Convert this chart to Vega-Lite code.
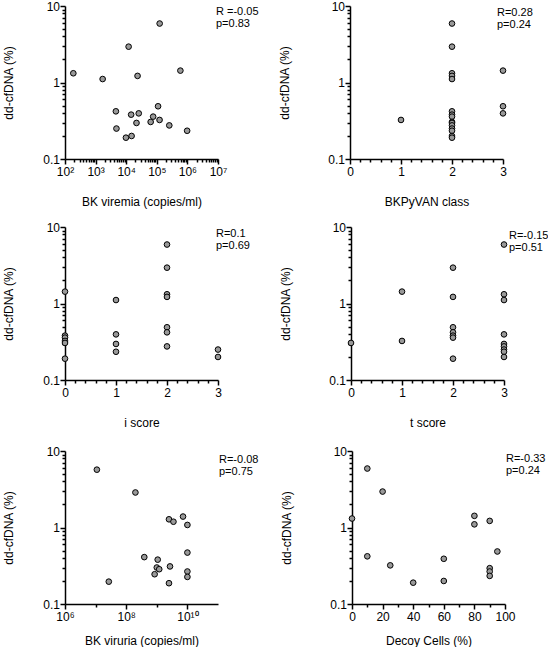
{
  "$schema": "https://vega.github.io/schema/vega-lite/v6.json",
  "padding": {"left": 2, "top": 0, "right": 0, "bottom": 0},
  "background": "white",
  "config": {
    "view": {"stroke": null},
    "font": "Liberation Sans",
    "axis": {"grid": false, "domainColor": "#000", "domainWidth": 1.5, "tickColor": "#000", "tickWidth": 1.5, "tickSize": 5, "labelColor": "#000", "labelFontSize": 12, "labelFont": "Liberation Sans", "titleFont": "Liberation Sans", "titleFontSize": 12, "titleFontWeight": "normal", "titleColor": "#000", "labelFlush": false, "labelOverlap": false},
    "axisX": {"labelPadding": 2.5},
    "axisY": {"labelPadding": 0.5},
    "text": {"font": "Liberation Sans", "fontSize": 11, "fontWeight": "normal", "align": "left", "baseline": "top", "lineHeight": 12, "fill": "#000"}
  },
  "datasets": {
    "viremia": [
      {"bk_viremia": 187, "dd_cfdna": 1.32}, {"bk_viremia": 1700, "dd_cfdna": 1.11}, {"bk_viremia": 12000, "dd_cfdna": 2.94},
      {"bk_viremia": 23500, "dd_cfdna": 1.22}, {"bk_viremia": 124000, "dd_cfdna": 5.9}, {"bk_viremia": 590000, "dd_cfdna": 1.43},
      {"bk_viremia": 4600, "dd_cfdna": 0.42}, {"bk_viremia": 4800, "dd_cfdna": 0.25}, {"bk_viremia": 9800, "dd_cfdna": 0.19},
      {"bk_viremia": 15000, "dd_cfdna": 0.2}, {"bk_viremia": 14500, "dd_cfdna": 0.38}, {"bk_viremia": 25700, "dd_cfdna": 0.395},
      {"bk_viremia": 21700, "dd_cfdna": 0.296}, {"bk_viremia": 63000, "dd_cfdna": 0.305}, {"bk_viremia": 76000, "dd_cfdna": 0.358},
      {"bk_viremia": 110000, "dd_cfdna": 0.489}, {"bk_viremia": 123000, "dd_cfdna": 0.324}, {"bk_viremia": 256000, "dd_cfdna": 0.275},
      {"bk_viremia": 980000, "dd_cfdna": 0.234}
    ],
    "bkpyvan": [
      {"bkpyvan_class": 1, "dd_cfdna": 0.324},
      {"bkpyvan_class": 2, "dd_cfdna": 5.9}, {"bkpyvan_class": 2, "dd_cfdna": 2.94}, {"bkpyvan_class": 2, "dd_cfdna": 1.32},
      {"bkpyvan_class": 2, "dd_cfdna": 1.22}, {"bkpyvan_class": 2, "dd_cfdna": 1.11}, {"bkpyvan_class": 2, "dd_cfdna": 0.42},
      {"bkpyvan_class": 2, "dd_cfdna": 0.38}, {"bkpyvan_class": 2, "dd_cfdna": 0.358}, {"bkpyvan_class": 2, "dd_cfdna": 0.305},
      {"bkpyvan_class": 2, "dd_cfdna": 0.296}, {"bkpyvan_class": 2, "dd_cfdna": 0.275}, {"bkpyvan_class": 2, "dd_cfdna": 0.25},
      {"bkpyvan_class": 2, "dd_cfdna": 0.234}, {"bkpyvan_class": 2, "dd_cfdna": 0.2}, {"bkpyvan_class": 2, "dd_cfdna": 0.19},
      {"bkpyvan_class": 3, "dd_cfdna": 1.43}, {"bkpyvan_class": 3, "dd_cfdna": 0.489}, {"bkpyvan_class": 3, "dd_cfdna": 0.395}
    ],
    "iscore": [
      {"i_score": 0, "dd_cfdna": 1.43}, {"i_score": 0, "dd_cfdna": 0.38}, {"i_score": 0, "dd_cfdna": 0.358},
      {"i_score": 0, "dd_cfdna": 0.324}, {"i_score": 0, "dd_cfdna": 0.305}, {"i_score": 0, "dd_cfdna": 0.19},
      {"i_score": 1, "dd_cfdna": 1.11}, {"i_score": 1, "dd_cfdna": 0.395}, {"i_score": 1, "dd_cfdna": 0.296}, {"i_score": 1, "dd_cfdna": 0.234},
      {"i_score": 2, "dd_cfdna": 5.9}, {"i_score": 2, "dd_cfdna": 2.94}, {"i_score": 2, "dd_cfdna": 1.32}, {"i_score": 2, "dd_cfdna": 1.22},
      {"i_score": 2, "dd_cfdna": 0.489}, {"i_score": 2, "dd_cfdna": 0.42}, {"i_score": 2, "dd_cfdna": 0.275},
      {"i_score": 3, "dd_cfdna": 0.25}, {"i_score": 3, "dd_cfdna": 0.2}
    ],
    "tscore": [
      {"t_score": 0, "dd_cfdna": 0.305},
      {"t_score": 1, "dd_cfdna": 1.43}, {"t_score": 1, "dd_cfdna": 0.324},
      {"t_score": 2, "dd_cfdna": 2.94}, {"t_score": 2, "dd_cfdna": 1.22}, {"t_score": 2, "dd_cfdna": 0.489}, {"t_score": 2, "dd_cfdna": 0.42},
      {"t_score": 2, "dd_cfdna": 0.38}, {"t_score": 2, "dd_cfdna": 0.358}, {"t_score": 2, "dd_cfdna": 0.19},
      {"t_score": 3, "dd_cfdna": 5.9}, {"t_score": 3, "dd_cfdna": 1.32}, {"t_score": 3, "dd_cfdna": 1.11}, {"t_score": 3, "dd_cfdna": 0.395},
      {"t_score": 3, "dd_cfdna": 0.296}, {"t_score": 3, "dd_cfdna": 0.275}, {"t_score": 3, "dd_cfdna": 0.25}, {"t_score": 3, "dd_cfdna": 0.234},
      {"t_score": 3, "dd_cfdna": 0.2}
    ],
    "viruria": [
      {"bk_viruria": 11000000, "dd_cfdna": 5.7}, {"bk_viruria": 27000000, "dd_cfdna": 0.196}, {"bk_viruria": 200000000, "dd_cfdna": 2.87},
      {"bk_viruria": 390000000, "dd_cfdna": 0.41}, {"bk_viruria": 1070000000, "dd_cfdna": 0.38}, {"bk_viruria": 1000000000, "dd_cfdna": 0.3},
      {"bk_viruria": 1200000000, "dd_cfdna": 0.285}, {"bk_viruria": 850000000, "dd_cfdna": 0.245}, {"bk_viruria": 2500000000, "dd_cfdna": 1.28},
      {"bk_viruria": 3500000000, "dd_cfdna": 1.19}, {"bk_viruria": 2700000000, "dd_cfdna": 0.31}, {"bk_viruria": 2500000000, "dd_cfdna": 0.187},
      {"bk_viruria": 7200000000, "dd_cfdna": 1.39}, {"bk_viruria": 10000000000, "dd_cfdna": 1.08}, {"bk_viruria": 10000000000, "dd_cfdna": 0.47},
      {"bk_viruria": 10000000000, "dd_cfdna": 0.266}, {"bk_viruria": 10000000000, "dd_cfdna": 0.226}
    ],
    "decoy": [
      {"decoy_cells": 0, "dd_cfdna": 1.31}, {"decoy_cells": 10, "dd_cfdna": 5.9}, {"decoy_cells": 10, "dd_cfdna": 0.42},
      {"decoy_cells": 20, "dd_cfdna": 2.95}, {"decoy_cells": 25, "dd_cfdna": 0.32}, {"decoy_cells": 40, "dd_cfdna": 0.19},
      {"decoy_cells": 60, "dd_cfdna": 0.39}, {"decoy_cells": 60, "dd_cfdna": 0.2}, {"decoy_cells": 80, "dd_cfdna": 1.42},
      {"decoy_cells": 80, "dd_cfdna": 1.1}, {"decoy_cells": 90, "dd_cfdna": 1.22}, {"decoy_cells": 90, "dd_cfdna": 0.294},
      {"decoy_cells": 90, "dd_cfdna": 0.266}, {"decoy_cells": 90, "dd_cfdna": 0.233}, {"decoy_cells": 95, "dd_cfdna": 0.486}
    ]
  },
  "spacing": 13,
  "vconcat": [
    {
      "spacing": 19,
      "hconcat": [
        {
          "width": 153, "height": 153,
          "data": {"name": "viremia"},
          "layer": [
            {
              "mark": {"type": "circle", "size": 32, "color": "#999999", "stroke": "#000", "strokeWidth": 1, "opacity": 1},
              "encoding": {
                "x": {"field": "bk_viremia", "type": "quantitative", "scale": {"type": "log", "domain": [100, 10000000], "nice": false},
                      "axis": {"values": [100, 1000, 10000, 100000, 1000000, 10000000], "labelExpr": "'10' + ['⁰','¹','²','³','⁴','⁵','⁶','⁷','⁸','⁹','¹⁰','¹¹'][round(log(datum.value)/LN10)]", "title": "BK viremia (copies/ml)", "titlePadding": 19}},
                "y": {"field": "dd_cfdna", "type": "quantitative", "scale": {"type": "log", "domain": [0.1, 10], "nice": false},
                      "axis": {"values": [0.1, 1, 10], "format": "~g", "title": "dd-cfDNA (%)", "titlePadding": 27}}
              }
            },
            {
              "mark": {"type": "circle", "opacity": 0},
              "encoding": {
                "x": {"field": "bk_viremia", "type": "quantitative", "axis": {"orient": "bottom", "values": [200,300,400,500,600,700,800,900,2000,3000,4000,5000,6000,7000,8000,9000,20000,30000,40000,50000,60000,70000,80000,90000,200000,300000,400000,500000,600000,700000,800000,900000,2000000,3000000,4000000,5000000,6000000,7000000,8000000,9000000], "labels": false, "domain": false, "tickSize": 3, "title": null}},
                "y": {"field": "dd_cfdna", "type": "quantitative", "axis": {"orient": "left", "values": [0.2,0.3,0.4,0.5,0.6,0.7,0.8,0.9,2,3,4,5,6,7,8,9], "labels": false, "domain": false, "tickSize": 3, "title": null}}
              }
            },
            {
              "data": {"values": [{}]},
              "mark": {"type": "text", "dx": -2, "dy": 0},
              "encoding": {"x": {"datum": 10000000, "axis": null}, "y": {"datum": 10, "axis": null}, "text": {"value": ["R =-0.05", "p=0.83"]}}
            }
          ],
          "resolve": {"axis": {"x": "independent", "y": "independent"}}
        },
        {
          "width": 153, "height": 153,
          "data": {"name": "bkpyvan"},
          "layer": [
            {
              "mark": {"type": "circle", "size": 32, "color": "#999999", "stroke": "#000", "strokeWidth": 1, "opacity": 1},
              "encoding": {
                "x": {"field": "bkpyvan_class", "type": "quantitative", "scale": {"domain": [0, 3], "nice": false, "zero": false},
                      "axis": {"values": [0, 1, 2, 3], "format": "d", "title": "BKPyVAN class", "titlePadding": 19}},
                "y": {"field": "dd_cfdna", "type": "quantitative", "scale": {"type": "log", "domain": [0.1, 10], "nice": false},
                      "axis": {"values": [0.1, 1, 10], "format": "~g", "title": "dd-cfDNA (%)", "titlePadding": 36}}
              }
            },
            {
              "mark": {"type": "circle", "opacity": 0},
              "encoding": {
                "x": {"field": "bkpyvan_class", "type": "quantitative", "axis": {"orient": "bottom", "values": [0.2,0.4,0.6,0.8,1.2,1.4,1.6,1.8,2.2,2.4,2.6,2.8], "labels": false, "domain": false, "tickSize": 3, "title": null}},
                "y": {"field": "dd_cfdna", "type": "quantitative", "axis": {"orient": "left", "values": [0.2,0.3,0.4,0.5,0.6,0.7,0.8,0.9,2,3,4,5,6,7,8,9], "labels": false, "domain": false, "tickSize": 3, "title": null}}
              }
            },
            {
              "data": {"values": [{}]},
              "mark": {"type": "text", "dx": -6, "dy": 1},
              "encoding": {"x": {"datum": 3, "axis": null}, "y": {"datum": 10, "axis": null}, "text": {"value": ["R=0.28", "p=0.24"]}}
            }
          ],
          "resolve": {"axis": {"x": "independent", "y": "independent"}}
        }
      ]
    },
    {
      "spacing": 16,
      "vconcat": [
        {
          "spacing": 29,
          "hconcat": [
            {
              "width": 153, "height": 153,
              "data": {"name": "iscore"},
              "layer": [
                {
                  "mark": {"type": "circle", "size": 32, "color": "#999999", "stroke": "#000", "strokeWidth": 1, "opacity": 1},
                  "encoding": {
                    "x": {"field": "i_score", "type": "quantitative", "scale": {"domain": [0, 3], "nice": false, "zero": false},
                          "axis": {"values": [0, 1, 2, 3], "format": "d", "title": "i score", "titlePadding": 19}},
                    "y": {"field": "dd_cfdna", "type": "quantitative", "scale": {"type": "log", "domain": [0.1, 10], "nice": false},
                          "axis": {"values": [0.1, 1, 10], "format": "~g", "title": "dd-cfDNA (%)", "titlePadding": 27}}
                  }
                },
                {
                  "mark": {"type": "circle", "opacity": 0},
                  "encoding": {
                    "x": {"field": "i_score", "type": "quantitative", "axis": {"orient": "bottom", "values": [0.2,0.4,0.6,0.8,1.2,1.4,1.6,1.8,2.2,2.4,2.6,2.8], "labels": false, "domain": false, "tickSize": 3, "title": null}},
                    "y": {"field": "dd_cfdna", "type": "quantitative", "axis": {"orient": "left", "values": [0.2,0.3,0.4,0.5,0.6,0.7,0.8,0.9,2,3,4,5,6,7,8,9], "labels": false, "domain": false, "tickSize": 3, "title": null}}
                  }
                },
                {
                  "data": {"values": [{}]},
                  "mark": {"type": "text", "dx": -2, "dy": 1},
                  "encoding": {"x": {"datum": 3, "axis": null}, "y": {"datum": 10, "axis": null}, "text": {"value": ["R=0.1", "p=0.69"]}}
                }
              ],
              "resolve": {"axis": {"x": "independent", "y": "independent"}}
            },
            {
              "width": 153, "height": 153,
              "data": {"name": "tscore"},
              "layer": [
                {
                  "mark": {"type": "circle", "size": 32, "color": "#999999", "stroke": "#000", "strokeWidth": 1, "opacity": 1},
                  "encoding": {
                    "x": {"field": "t_score", "type": "quantitative", "scale": {"domain": [0, 3], "nice": false, "zero": false},
                          "axis": {"values": [0, 1, 2, 3], "format": "d", "title": "t score", "titlePadding": 19}},
                    "y": {"field": "dd_cfdna", "type": "quantitative", "scale": {"type": "log", "domain": [0.1, 10], "nice": false},
                          "axis": {"values": [0.1, 1, 10], "format": "~g", "title": "dd-cfDNA (%)", "titlePadding": 36}}
                  }
                },
                {
                  "mark": {"type": "circle", "opacity": 0},
                  "encoding": {
                    "x": {"field": "t_score", "type": "quantitative", "axis": {"orient": "bottom", "values": [0.2,0.4,0.6,0.8,1.2,1.4,1.6,1.8,2.2,2.4,2.6,2.8], "labels": false, "domain": false, "tickSize": 3, "title": null}},
                    "y": {"field": "dd_cfdna", "type": "quantitative", "axis": {"orient": "left", "values": [0.2,0.3,0.4,0.5,0.6,0.7,0.8,0.9,2,3,4,5,6,7,8,9], "labels": false, "domain": false, "tickSize": 3, "title": null}}
                  }
                },
                {
                  "data": {"values": [{}]},
                  "mark": {"type": "text", "dx": 5, "dy": 3},
                  "encoding": {"x": {"datum": 3, "axis": null}, "y": {"datum": 10, "axis": null}, "text": {"value": ["R=-0.15", "p=0.51"]}}
                }
              ],
              "resolve": {"axis": {"x": "independent", "y": "independent"}}
            }
          ]
        },
        {
          "spacing": 21,
          "hconcat": [
            {
              "width": 153, "height": 153,
              "data": {"name": "viruria"},
              "layer": [
                {
                  "mark": {"type": "circle", "size": 32, "color": "#999999", "stroke": "#000", "strokeWidth": 1, "opacity": 1},
                  "encoding": {
                    "x": {"field": "bk_viruria", "type": "quantitative", "scale": {"type": "log", "domain": [1000000, 100000000000], "nice": false},
                          "axis": {"values": [1000000, 100000000, 10000000000], "labelExpr": "'10' + ['⁰','¹','²','³','⁴','⁵','⁶','⁷','⁸','⁹','¹⁰','¹¹'][round(log(datum.value)/LN10)]", "title": "BK viruria (copies/ml)", "titlePadding": 13}},
                    "y": {"field": "dd_cfdna", "type": "quantitative", "scale": {"type": "log", "domain": [0.1, 10], "nice": false},
                          "axis": {"values": [0.1, 1, 10], "format": "~g", "title": "dd-cfDNA (%)", "titlePadding": 27}}
                  }
                },
                {
                  "mark": {"type": "circle", "opacity": 0},
                  "encoding": {
                    "x": {"field": "bk_viruria", "type": "quantitative", "axis": {"orient": "bottom", "values": [10000000, 1000000000], "labels": false, "domain": false, "tickSize": 3, "title": null}},
                    "y": {"field": "dd_cfdna", "type": "quantitative", "axis": {"orient": "left", "values": [0.2,0.3,0.4,0.5,0.6,0.7,0.8,0.9,2,3,4,5,6,7,8,9], "labels": false, "domain": false, "tickSize": 3, "title": null}}
                  }
                },
                {
                  "data": {"values": [{}]},
                  "mark": {"type": "text", "dx": 1, "dy": 3},
                  "encoding": {"x": {"datum": 100000000000, "axis": null}, "y": {"datum": 10, "axis": null}, "text": {"value": ["R=-0.08", "p=0.75"]}}
                }
              ],
              "resolve": {"axis": {"x": "independent", "y": "independent"}}
            },
            {
              "width": 153, "height": 153,
              "data": {"name": "decoy"},
              "layer": [
                {
                  "mark": {"type": "circle", "size": 32, "color": "#999999", "stroke": "#000", "strokeWidth": 1, "opacity": 1},
                  "encoding": {
                    "x": {"field": "decoy_cells", "type": "quantitative", "scale": {"domain": [0, 100], "nice": false},
                          "axis": {"values": [0, 20, 40, 60, 80, 100], "format": "d", "title": "Decoy Cells (%)", "titlePadding": 13}},
                    "y": {"field": "dd_cfdna", "type": "quantitative", "scale": {"type": "log", "domain": [0.1, 10], "nice": false},
                          "axis": {"values": [0.1, 1, 10], "format": "~g", "title": "dd-cfDNA (%)", "titlePadding": 36}}
                  }
                },
                {
                  "mark": {"type": "circle", "opacity": 0},
                  "encoding": {
                    "x": {"field": "decoy_cells", "type": "quantitative", "axis": {"orient": "bottom", "values": [10, 30, 50, 70, 90], "labels": false, "domain": false, "tickSize": 3, "title": null}},
                    "y": {"field": "dd_cfdna", "type": "quantitative", "axis": {"orient": "left", "values": [0.2,0.3,0.4,0.5,0.6,0.7,0.8,0.9,2,3,4,5,6,7,8,9], "labels": false, "domain": false, "tickSize": 3, "title": null}}
                  }
                },
                {
                  "data": {"values": [{}]},
                  "mark": {"type": "text", "dx": 1, "dy": 2},
                  "encoding": {"x": {"datum": 100, "axis": null}, "y": {"datum": 10, "axis": null}, "text": {"value": ["R=-0.33", "p=0.24"]}}
                }
              ],
              "resolve": {"axis": {"x": "independent", "y": "independent"}}
            }
          ]
        }
      ]
    }
  ]
}
